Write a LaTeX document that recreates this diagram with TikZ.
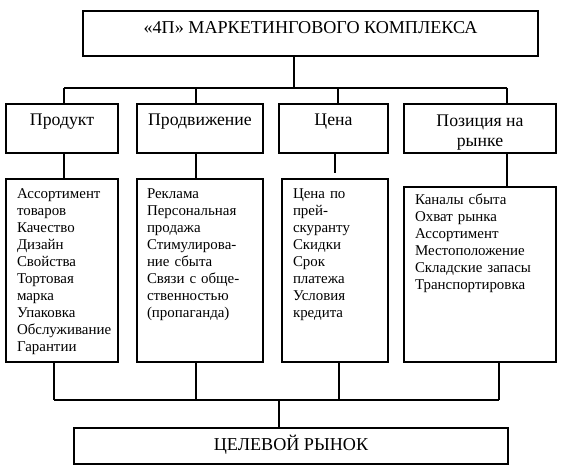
\documentclass[tikz,border=0pt]{standalone}
\usepackage{fontspec}
\setmainfont{Liberation Serif}
\begin{document}
\begin{tikzpicture}[x=0.75pt,y=-0.75pt,line width=0.8pt,
  box/.style={draw,rectangle,inner sep=0pt,outer sep=0pt,anchor=north west},
  big/.style={box,font=\fontsize{13.6}{15}\selectfont,align=center},
  head/.style={box,font=\fontsize{13.3}{15}\selectfont,align=center,text height=16.5pt,text depth=20.25pt},
  list/.style={box,font=\fontsize{11.2}{12.7}\selectfont,align=left,inner xsep=8.25pt},
  tall/.style={list,text height=15pt,text depth=122.25pt}]
\fill[white] (0,0) rectangle (564,473);
\useasboundingbox (0,0) rectangle (564,473);

% title
\node[big,minimum width=341.25pt,text height=17pt,text depth=16.75pt] (title) at (83,11) {«4П» МАРКЕТИНГОВОГО КОМПЛЕКСА};

% headings
\node[head,minimum width=84pt] (h1) at (6,104) {Продукт};
\node[head,minimum width=94.5pt] (h2) at (137,104) {Продвижение};
\node[head,minimum width=81.75pt] (h3) at (279,104) {Цена};
\node[head,minimum width=114pt,text height=32pt,text depth=4.75pt] (h4) at (404,104) {Позиция на\\рынке};

% lists
\node[tall,text width=67.5pt] (l1) at (6,179) {Ассортимент\\товаров\\Качество\\Дизайн\\Свойства\\Тортовая\\марка\\Упаковка\\Обслуживание\\Гарантии};
\node[tall,inner xsep=7.5pt,text width=79.5pt] (l2) at (137,179) {Реклама\\Персональная\\продажа\\Стимулирова-\\ние сбыта\\Связи с обще-\\ственностью\\(пропаганда)};
\node[tall,text width=63pt] (l3) at (282,179) {Цена по\\прей-\\скуранту\\Скидки\\Срок\\платежа\\Условия\\кредита};
\node[list,text width=97.5pt,text height=13.5pt,text depth=117.75pt] (l4) at (404,187) {Каналы сбыта\\Охват рынка\\Ассортимент\\Местоположение\\Складские запасы\\Транспортировка};

% bottom
\node[big,minimum width=325.5pt,text height=17.25pt,text depth=9.75pt] (goal) at (74,428) {ЦЕЛЕВОЙ РЫНОК};

% helper coordinates
\coordinate (busT) at (0,88);
\coordinate (busB) at (0,400);
\coordinate (xt) at (294,0);
\coordinate (a1) at (64,0);
\coordinate (a2) at (196,0);
\coordinate (a3) at (338,0);
\coordinate (a4) at (507,0);
\coordinate (p3) at (335,0);
\coordinate (c3) at (335,173);
\coordinate (b1) at (54,0);
\coordinate (b2) at (196,0);
\coordinate (b3) at (339,0);
\coordinate (b4) at (499,0);
\coordinate (xg) at (279,0);

% top connectors
\draw (xt |- title.south) -- (xt |- busT);
\draw (a1 |- busT) -- (a4 |- busT);
\draw (a1 |- busT) -- (a1 |- h1.north);
\draw (a2 |- busT) -- (a2 |- h2.north);
\draw (a3 |- busT) -- (a3 |- h3.north);
\draw (a4 |- busT) -- (a4 |- h4.north);

% heading to list
\draw (a1 |- h1.south) -- (a1 |- l1.north);
\draw (a2 |- h2.south) -- (a2 |- l2.north);
\draw (p3 |- h3.south) -- (c3);
\draw (a4 |- h4.south) -- (a4 |- l4.north);

% bottom connectors
\draw (b1 |- l1.south) -- (b1 |- busB);
\draw (b2 |- l2.south) -- (b2 |- busB);
\draw (b3 |- l3.south) -- (b3 |- busB);
\draw (b4 |- l4.south) -- (b4 |- busB);
\draw (b1 |- busB) -- (b4 |- busB);
\draw (xg |- busB) -- (xg |- goal.north);
\end{tikzpicture}
\end{document}
